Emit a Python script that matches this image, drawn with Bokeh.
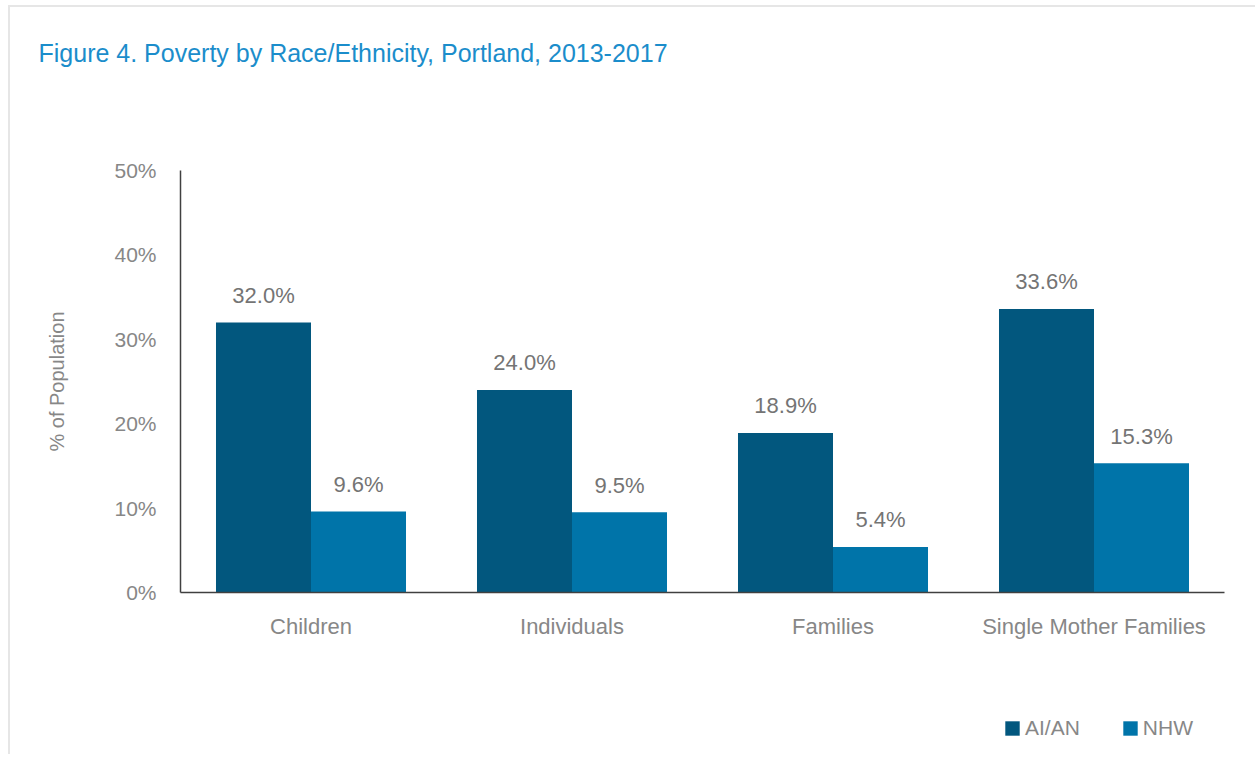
from bokeh.plotting import figure
from bokeh.layouts import column
from bokeh.models import (ColumnDataSource, FactorRange, Range1d, Legend, LegendItem, Label,
                          PrintfTickFormatter, FixedTicker)
from bokeh.core.properties import value
from bokeh.transform import dodge
from bokeh.embed import file_html
from bokeh.resources import INLINE

categories = ["Children", "Individuals", "Families", "Single Mother Families"]
aian = [32.0, 24.0, 18.9, 33.6]
nhw = [9.6, 9.5, 5.4, 15.3]
series_names = ["AI/AN", "NHW"]
y_ticks = [0, 10, 20, 30, 40, 50]
title_text = "Figure 4. Poverty by Race/Ethnicity, Portland, 2013-2017"
y_label = "% of Population"

FONT = "Liberation Sans"
C_AIAN = "#02577E"
C_NHW = "#0074A9"
GRAY = "#878787"
LBL_GRAY = "#747474"
W = 1255


def bare(height):
    f = figure(width=W, height=height, x_range=Range1d(0, 1), y_range=Range1d(0, 1),
               output_backend="svg", toolbar_location=None,
               x_axis_location=None, y_axis_location=None, frame_align=False,
               min_border_left=0, min_border_right=0, min_border_top=0, min_border_bottom=0)
    f.border_fill_color = None
    f.background_fill_color = None
    f.outline_line_color = None
    f.xgrid.grid_line_color = None
    f.ygrid.grid_line_color = None
    return f


# ---- title strip
top = bare(100)
top.add_layout(Label(x=38, y=48, x_units="screen", y_units="screen", text=title_text,
                     text_font=FONT, text_font_size="25px", text_color="#1B8DCB",
                     text_baseline="alphabetic"))

# ---- main chart
src = ColumnDataSource(dict(
    cat=categories,
    aian=aian,
    nhw=nhw,
    aian_lbl=[f"{v:.1f}%" for v in aian],
    nhw_lbl=[f"{v:.1f}%" for v in nhw],
))

p = figure(width=W, height=600, x_range=FactorRange(*categories, range_padding=0),
           y_range=Range1d(0, 50), output_backend="svg", toolbar_location=None,
           frame_align=False,
           min_border_left=180, min_border_right=W - 1224, min_border_top=70,
           min_border_bottom=108)
p.border_fill_color = None
p.background_fill_color = None
p.outline_line_color = None
p.xgrid.grid_line_color = None
p.ygrid.grid_line_color = None

bw = 0.364
r1 = p.vbar(x=dodge("cat", -bw / 2, range=p.x_range), top="aian", width=bw, source=src,
            fill_color=C_AIAN, line_color=None)
r2 = p.vbar(x=dodge("cat", bw / 2, range=p.x_range), top="nhw", width=bw, source=src,
            fill_color=C_NHW, line_color=None)

for col, lbl, off in (("aian", "aian_lbl", -bw / 2), ("nhw", "nhw_lbl", bw / 2)):
    p.text(x=dodge("cat", off, range=p.x_range), y=col, text=lbl, source=src,
           y_offset=-27, text_align="center", text_baseline="alphabetic",
           text_font=value(FONT), text_font_size="22px", text_color=LBL_GRAY)

p.yaxis.ticker = FixedTicker(ticks=y_ticks)
p.yaxis.formatter = PrintfTickFormatter(format="%d%%")
for ax in (p.xaxis[0], p.yaxis[0]):
    ax.major_tick_line_color = None
    ax.minor_tick_line_color = None
    ax.axis_line_color = "#404040"
    ax.axis_line_width = 1.5
    ax.major_label_text_font = FONT
    ax.major_label_text_color = GRAY
p.yaxis.major_label_text_font_size = "21px"
p.xaxis.major_label_text_font_size = "22px"
p.yaxis.major_label_standoff = 18
p.xaxis.major_label_standoff = 15
p.yaxis.axis_label = y_label
p.yaxis.axis_label_text_font = FONT
p.yaxis.axis_label_text_font_size = "20px"
p.yaxis.axis_label_text_font_style = "normal"
p.yaxis.axis_label_text_color = GRAY
p.yaxis.axis_label_standoff = 43

# ---- legend strip (swatch proxies lie outside the strip's visible range)
bot = bare(54)
proxy = ColumnDataSource(dict(x=[-5.0], top=[-5.0]))
g1 = bot.vbar(x="x", top="top", width=0.1, source=proxy, fill_color=C_AIAN, line_color=None)
g2 = bot.vbar(x="x", top="top", width=0.1, source=proxy, fill_color=C_NHW, line_color=None)
legend = Legend(items=[LegendItem(label=series_names[0], renderers=[g1]),
                       LegendItem(label=series_names[1], renderers=[g2])],
                orientation="horizontal", location=(1003, 14),
                glyph_width=18, glyph_height=18, label_standoff=4, spacing=41,
                padding=0, margin=0, border_line_color=None, background_fill_alpha=0,
                label_text_font=FONT, label_text_font_size="21px", label_text_color=GRAY)
bot.add_layout(legend, "center")

layout = column(top, p, bot, spacing=0,
                styles={"box-shadow": "inset 8px 5px 0 0 #ffffff, inset 10px 7px 0 0 #e6e6e6"})

open("out.html", "w").write(file_html(layout, INLINE))
